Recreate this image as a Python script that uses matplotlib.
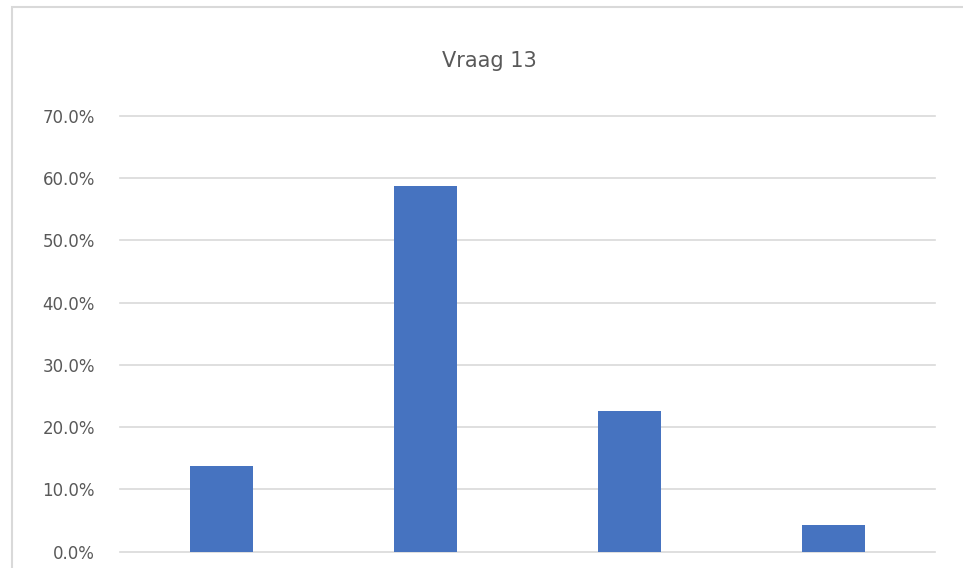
import matplotlib.pyplot as plt
from matplotlib.patches import Rectangle
from matplotlib.ticker import PercentFormatter

# Vraag 13 - share of answers per option
categories = ["A", "B", "C", "D"]
shares = [13.8, 58.8, 22.6, 4.2]
yticks = [0, 10, 20, 30, 40, 50, 60, 70]

fig = plt.figure(figsize=(9.63, 5.68), dpi=100)
ax = fig.add_axes([0.1246, 0.029, 0.8464, 0.767])

x = range(len(categories))
ax.bar(x, shares, width=0.31, color="#4673C0", zorder=3)

ax.set_xlim(-0.5, len(categories) - 0.5)
ax.set_ylim(0, 70)
ax.set_yticks(yticks)
ax.yaxis.set_major_formatter(PercentFormatter(decimals=1))
ax.set_xticks([])
ax.grid(axis="y", color="#d9d9d9", linewidth=1.2, zorder=0)
for line in ax.get_ygridlines():
    line.set_clip_on(False)
for side in ax.spines.values():
    side.set_visible(False)
ax.tick_params(axis="y", length=0, pad=18, labelsize=12, labelcolor="#595959")

fig.text(0.508, 0.893, "Vraag 13", ha="center", va="center",
         fontsize=15, color="#595959")

# light frame around the chart area
fig.patches.append(Rectangle((0.0125, -0.05), 1.05, 1.037, transform=fig.transFigure,
                             fill=False, edgecolor="#d9d9d9", linewidth=1.5))

fig.savefig("out.png", dpi=100)
